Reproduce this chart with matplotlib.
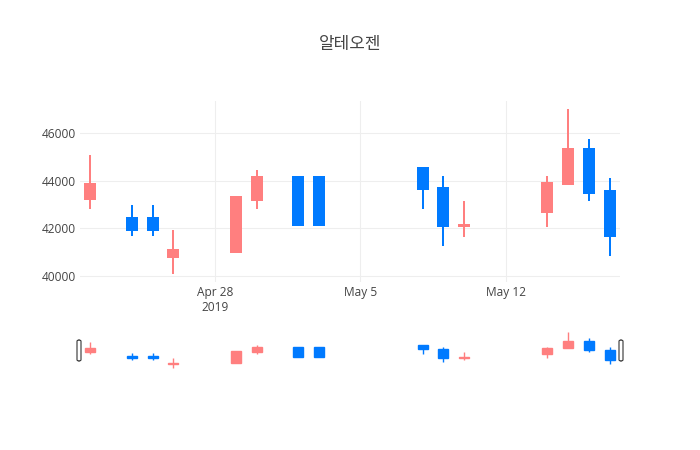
import matplotlib
matplotlib.use("Agg")
import matplotlib.pyplot as plt
import matplotlib.dates as mdates
from matplotlib.patches import FancyBboxPatch
import numpy as np
import datetime as dt

# ---- data ----
dates = ["2019-04-22", "2019-04-24", "2019-04-25", "2019-04-26", "2019-04-29",
         "2019-04-30", "2019-05-02", "2019-05-03", "2019-05-08", "2019-05-09",
         "2019-05-10", "2019-05-14", "2019-05-15", "2019-05-16", "2019-05-17"]
opens  = [43250, 42450, 42450, 40800, 41000, 43200, 44150, 44150, 44550, 43700,
          42100, 42700, 43850, 45350, 43550]
highs  = [45100, 43000, 43000, 41950, 43350, 44450, 44200, 44200, 44550, 44200,
          43150, 44200, 47000, 45750, 44100]
lows   = [42800, 41700, 41700, 40100, 41000, 42800, 42150, 42150, 42800, 41250,
          41650, 42050, 43850, 43150, 40850]
closes = [43850, 41950, 41950, 41100, 43300, 44150, 42150, 42150, 43650, 42100,
          42150, 43900, 45350, 43500, 41700]
title = "알테오젠"
x_ticks = ["2019-04-28", "2019-05-05", "2019-05-12"]
x_tick_labels = ["Apr 28\n2019", "May 5", "May 12"]
y_ticks = [40000, 42000, 44000, 46000]

INC = "#FF7F7F"
DEC = "#007AFF"
TXT = "#444444"
GRID = "#EEEEEE"

xd = mdates.date2num([dt.datetime.strptime(d, "%Y-%m-%d") for d in dates])
o = np.array(opens); h = np.array(highs); l = np.array(lows); c = np.array(closes)
cols = [INC if cc >= oo else DEC for oo, cc in zip(o, c)]

W, H = 700, 450
fig = plt.figure(figsize=(7, 4.5), dpi=100)
fig.patch.set_facecolor("white")

def px_axes(x0, y0, x1, y1):
    return fig.add_axes([x0 / W, 1 - y1 / H, (x1 - x0) / W, (y1 - y0) / H])

ax = px_axes(80, 101, 620, 282)
sl = px_axes(80, 330, 620, 370)

xmin = mdates.date2num(dt.datetime(2019, 4, 21, 12))
xmax = mdates.date2num(dt.datetime(2019, 5, 17, 12))
ylo, yhi = 39755, 47345

def draw(a, lw):
    a.vlines(xd, l, h, colors=cols, linewidth=lw, zorder=3)
    a.bar(xd, np.abs(c - o), bottom=np.minimum(o, c), width=0.48,
          color=cols, edgecolor=cols, linewidth=lw, zorder=4)
    a.set_xlim(xmin, xmax)
    a.set_ylim(ylo, yhi)
    for s in a.spines.values():
        s.set_visible(False)

draw(ax, 1.44)
draw(sl, 1.0)

tk = mdates.date2num([dt.datetime.strptime(d, "%Y-%m-%d") for d in x_ticks])
ax.set_xticks(tk)
ax.set_xticklabels(x_tick_labels, fontsize=8.6, color=TXT, family="Open Sans",
                   linespacing=1.15)
ax.set_yticks(y_ticks)
ax.set_yticklabels([str(v) for v in y_ticks], fontsize=8.6, color=TXT, family="Open Sans")
ax.tick_params(length=0, pad=3)
ax.grid(True, color=GRID, linewidth=0.75, zorder=0)
ax.set_axisbelow(True)

sl.set_xticks([]); sl.set_yticks([])

# range slider grabbers
for xp in (79, 621):
    p = FancyBboxPatch(((xp - 2) / W, 1 - 361 / H), 4 / W, 21 / H,
                       boxstyle="round,pad=0,rounding_size=0.003",
                       transform=fig.transFigure, facecolor="white",
                       edgecolor="#333333", linewidth=0.8, zorder=10)
    fig.patches.append(p)

fig.text(350 / W, 1 - 44 / H, title, ha="center", va="center", fontsize=12.2,
         color=TXT, family=["Noto Sans CJK KR", "DejaVu Sans"])

fig.savefig("out.png", dpi=100, facecolor="white")
